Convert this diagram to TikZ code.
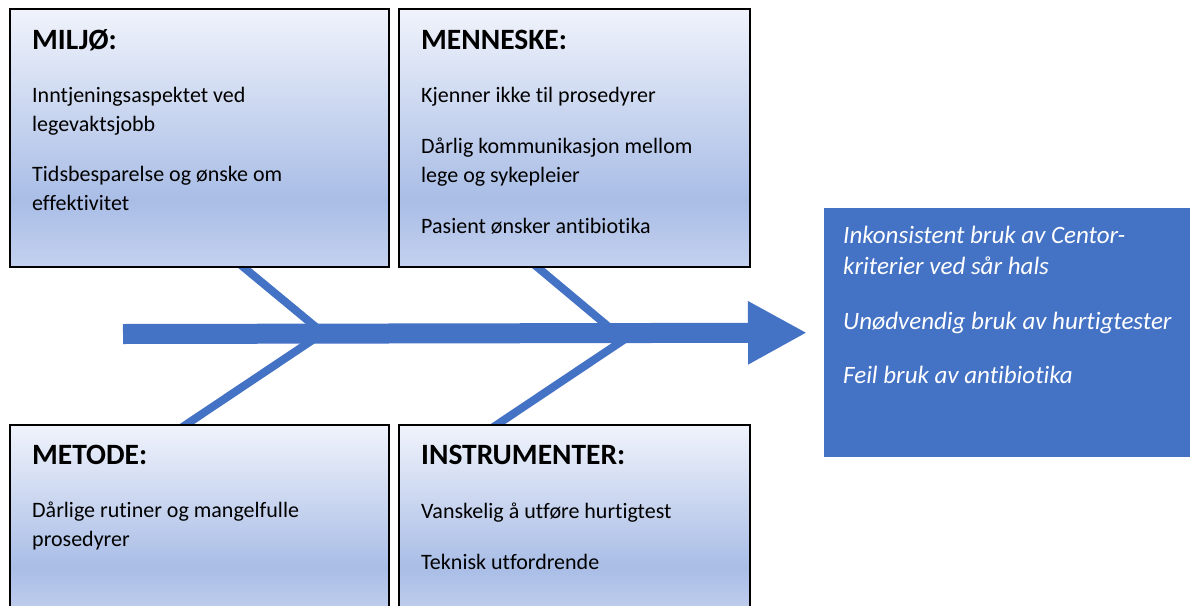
\documentclass[tikz,border=0pt]{standalone}
\usepackage{fontspec}
\setmainfont{Carlito}[Ligatures=NoCommon]
\usetikzlibrary{arrows.meta}

\definecolor{fishblue}{HTML}{4472C4}
\definecolor{boxtop}{HTML}{F0F3FB}
\definecolor{boxmid}{HTML}{A9BDE6}
\definecolor{boxbot}{HTML}{C4D1EF}
\pgfdeclareverticalshading{causefill}{100bp}{color(0bp)=(boxbot); color(25bp)=(boxbot); color(38bp)=(boxmid); color(75bp)=(boxtop); color(100bp)=(boxtop)}

\begin{document}
\begin{tikzpicture}[x=1pt,y=-1pt,
    cause/.style={draw=black,line width=1.5pt,shading=causefill,anchor=north west,inner sep=0pt,minimum width=379pt},
    title/.style={anchor=base west,inner sep=0pt,font=\fontsize{29.5}{32}\selectfont\bfseries},
    body/.style={anchor=north west,align=left,inner sep=0pt,font=\fontsize{22}{29}\selectfont},
    bone/.style={draw=fishblue,line width=8pt},
    spine/.style={draw=fishblue,line width=20pt,-{Triangle[length=59pt,width=59pt]}}]
  \useasboundingbox (0,0) rectangle (1190,605);
  \coordinate (tail) at (123,334);
  \coordinate (jv) at (323,333);
  \coordinate (jhu) at (616,333);
  \coordinate (jhl) at (634,333);
  \coordinate (miljoFoot) at (230,256);
  \coordinate (menneskeFoot) at (524,256);
  \coordinate (metodeFoot) at (172,434);
  \coordinate (instrFoot) at (483,434);
  \draw[bone] (miljoFoot) -- (jv) -- (metodeFoot);
  \draw[bone] (menneskeFoot) -- (jhu);
  \draw[bone] (jhl) -- (instrFoot);

  \node[cause,minimum height=258pt] (miljo) at (9,8) {};
  \node[cause,minimum width=351pt,minimum height=258pt] (menneske) at (398,8) {};
  \node[cause,minimum height=193pt] (metode) at (9,424) {};
  \node[cause,minimum width=351pt,minimum height=193pt] (instr) at (398,424) {};
  \node[fill=fishblue,anchor=north west,minimum width=366pt,minimum height=249pt] (effekt) at (824,208) {};

  \draw[spine] (tail) -- ([xshift=-17pt]effekt.west);

  \node[title] (miljoT) at (32,49) {MILJØ:};
  \node[body] (miljoB) at (32,87) {Inntjeningsaspektet ved\\legevaktsjobb\\[21pt]Tidsbesparelse og ønske om\\effektivitet};
  \node[title] (menneskeT) at (421,49) {MENNESKE:};
  \node[body] (menneskeB) at (421,87) {Kjenner ikke til prosedyrer\\[22pt]Dårlig kommunikasjon mellom\\lege og sykepleier\\[22pt]Pasient ønsker antibiotika};
  \node[title] (metodeT) at (32,464) {METODE:};
  \node[body] (metodeB) at (32,502) {Dårlige rutiner og mangelfulle\\prosedyrer};
  \node[title] (instrT) at (421,464) {INSTRUMENTER:};
  \node[body] (instrB) at (421,503) {Vanskelig å utføre hurtigtest\\[22pt]Teknisk utfordrende};
  \node[body,text=white,font=\fontsize{25}{31}\selectfont\itshape] (effektB) at (843,226) {Inkonsistent bruk av Centor-\\kriterier ved sår hals\\[24pt]Unødvendig bruk av hurtigtester\\[23pt]Feil bruk av antibiotika};
\end{tikzpicture}
\end{document}
